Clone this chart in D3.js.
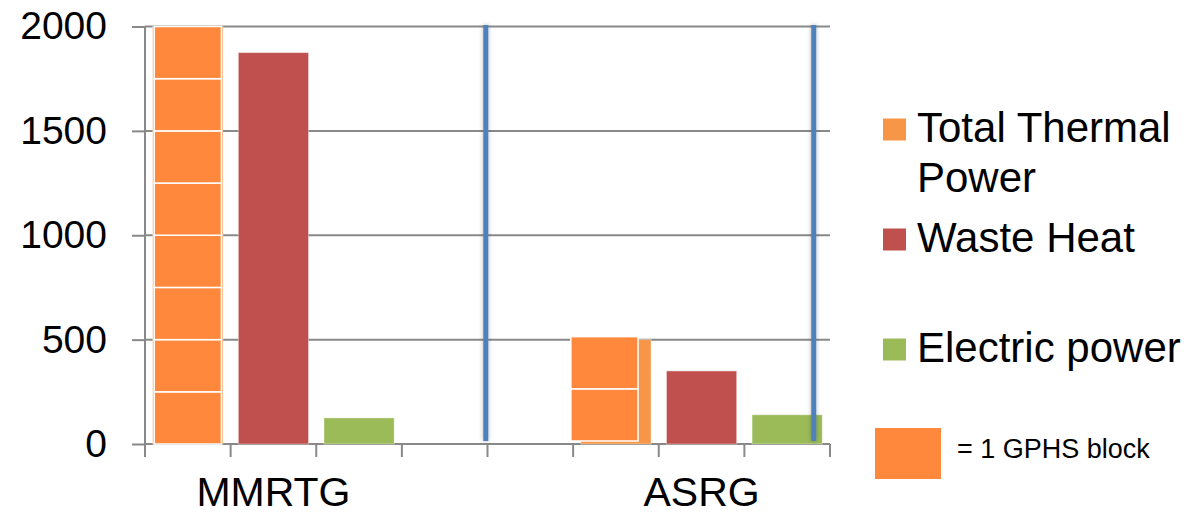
<!DOCTYPE html>
<html>
<head>
<meta charset="utf-8">
<script src="https://cdn.jsdelivr.net/npm/d3@7"></script>
<style>
    body { margin: 0; background: #fff; }
    svg { display: block; font-family: "Liberation Sans", Arial, sans-serif; }
</style>
</head>
<body>
<div id="chart"></div>
<script>
//Data
const groups = ["MMRTG", "ASRG"];
const seriesNames = ["Total Thermal Power", "Waste Heat", "Electric power"];
const thermalPower = [2000, 500];
const wasteHeat = [1875, 350];
const electricPower = [125, 140];
const gphsBlocks = [8, 2]; //number of GPHS blocks in each generator
const blockValue = 250; //thermal watts per block
const yTicks = [0, 500, 1000, 1500, 2000];

let cfg = {
    w: 1191,
    h: 515,
    left: 145,
    right: 830,
    top: 26.5,
    bottom: 444,
    slots: 8, //one slot per bar, empty slots between the two generators
    groupStart: [0, 5], //first slot of each generator
    dividers: [3.98, 7.81], //blue separator lines, in slot units
    colors: ["#F79646", "#C0504D", "#9BBB59"],
    blockColor: "#FF883C",
    axisColor: "#898989",
    dividerColor: "#4F81BD",
};

let svg = d3
    .select("#chart")
    .append("svg")
    .attr("width", cfg.w)
    .attr("height", cfg.h);

//soft shadow for the blue separators
let defs = svg.append("defs");
defs.append("filter")
    .attr("id", "shadow")
    .attr("x", "-200%")
    .attr("y", "-5%")
    .attr("width", "500%")
    .attr("height", "110%")
    .append("feDropShadow")
    .attr("dx", 0)
    .attr("dy", 0)
    .attr("stdDeviation", 2)
    .attr("flood-color", "#000")
    .attr("flood-opacity", 0.3);

let y = d3.scaleLinear().domain([0, 2000]).range([cfg.bottom, cfg.top]);

let x = d3
    .scaleBand()
    .domain(d3.range(cfg.slots))
    .range([cfg.left, cfg.right])
    .paddingInner(0.18)
    .paddingOuter(0.09);

//slot edges (for tick marks and separators)
let slotEdge = d3.scaleLinear().domain([0, cfg.slots]).range([cfg.left, cfg.right]);

//Gridlines
svg.append("g")
    .selectAll("line")
    .data(yTicks.filter((d) => d > 0))
    .enter()
    .append("line")
    .attr("x1", cfg.left)
    .attr("x2", cfg.right)
    .attr("y1", (d) => y(d))
    .attr("y2", (d) => y(d))
    .style("stroke", cfg.axisColor)
    .style("stroke-width", 2);

//Y axis
let yAxis = svg
    .append("g")
    .attr("transform", "translate(" + cfg.left + ",0)")
    .call(
        d3.axisLeft(y)
            .tickValues(yTicks)
            .tickFormat(d3.format("d"))
            .tickSize(13)
            .tickPadding(25)
    );
yAxis.select(".domain").remove();
yAxis.selectAll(".tick line").style("stroke", cfg.axisColor).style("stroke-width", 2);
yAxis.selectAll(".tick text")
    .style("font-size", "39px")
    .style("font-family", '"Liberation Sans", Arial, sans-serif')
    .attr("fill", "#000");

svg.append("line")
    .attr("x1", cfg.left)
    .attr("x2", cfg.left)
    .attr("y1", y(2000))
    .attr("y2", cfg.bottom + 13)
    .style("stroke", cfg.axisColor)
    .style("stroke-width", 2);

//X axis line and tick marks at slot edges
svg.append("line")
    .attr("x1", cfg.left)
    .attr("x2", cfg.right)
    .attr("y1", y(0))
    .attr("y2", y(0))
    .style("stroke", cfg.axisColor)
    .style("stroke-width", 2);

svg.append("g")
    .selectAll("line")
    .data(d3.range(1, cfg.slots + 1))
    .enter()
    .append("line")
    .attr("x1", (d) => slotEdge(d))
    .attr("x2", (d) => slotEdge(d))
    .attr("y1", y(0))
    .attr("y2", y(0) + 13)
    .style("stroke", cfg.axisColor)
    .style("stroke-width", 2);

//Bars: one slot per (generator, series)
let bars = [];
groups.forEach((g, gi) => {
    [thermalPower, wasteHeat, electricPower].forEach((vals, si) => {
        bars.push({ group: g, gi: gi, series: si, slot: cfg.groupStart[gi] + si, value: vals[gi] });
    });
});

svg.append("g")
    .selectAll("rect")
    .data(bars)
    .enter()
    .append("rect")
    .attr("x", (d) => x(d.slot))
    .attr("width", x.bandwidth())
    .attr("y", (d) => y(d.value))
    .attr("height", (d) => y(0) - y(d.value))
    .style("fill", (d) => cfg.colors[d.series])
    .style("stroke", "#fff")
    .style("stroke-opacity", 0.4)
    .style("stroke-width", 1);

//GPHS blocks stacked over the thermal bars
let blockShift = [{ dx: 1.5, dy: 0 }, { dx: -10, dy: -3 }];
let blocks = [];
groups.forEach((g, gi) => {
    d3.range(gphsBlocks[gi]).forEach((k) => blocks.push({ gi: gi, k: k }));
});

svg.append("g")
    .selectAll("rect")
    .data(blocks)
    .enter()
    .append("rect")
    .attr("x", (d) => x(cfg.groupStart[d.gi]) + blockShift[d.gi].dx)
    .attr("width", x.bandwidth() - 3)
    .attr("y", (d) => y((d.k + 1) * blockValue) + blockShift[d.gi].dy)
    .attr("height", y(0) - y(blockValue))
    .style("fill", cfg.blockColor)
    .style("stroke", "#fff")
    .style("stroke-width", 1.5);

//Group labels under the middle bar
svg.append("g")
    .selectAll("text")
    .data(groups)
    .enter()
    .append("text")
    .attr("x", (d, i) => x(cfg.groupStart[i] + 1) + x.bandwidth() / 2)
    .attr("y", 506)
    .attr("text-anchor", "middle")
    .style("font-size", "41px")
    .text((d) => d);

//Blue separators (thin rects so the shadow filter has an area to work on)
svg.append("g")
    .selectAll("rect")
    .data(cfg.dividers)
    .enter()
    .append("rect")
    .attr("x", (d) => slotEdge(d) - 2.5)
    .attr("width", 5)
    .attr("y", y(2000) - 1.5)
    .attr("height", y(0) - 3 - (y(2000) - 1.5))
    .style("fill", cfg.dividerColor)
    .style("filter", "url(#shadow)");

//Legend
let legend = svg
    .append("g")
    .selectAll(".legendItem")
    .data(seriesNames)
    .enter()
    .append("g")
    .attr("class", "legendItem")
    .attr("transform", (d, i) => "translate(883," + (129.5 + i * 110) + ")");

legend.append("rect")
    .attr("x", 0)
    .attr("y", -11)
    .attr("width", 23)
    .attr("height", 22)
    .style("fill", (d, i) => cfg.colors[i]);

legend.append("text")
    .attr("x", 34)
    .attr("y", 12)
    .style("font-size", "42px")
    .each(function (d) {
        //wrap "Total Thermal Power" onto two lines
        let words = d === "Total Thermal Power" ? ["Total Thermal", "Power"] : [d];
        d3.select(this)
            .selectAll("tspan")
            .data(words)
            .enter()
            .append("tspan")
            .attr("x", 34)
            .attr("dy", (w, j) => (j === 0 ? 0 : 50))
            .text((w) => w);
    });

//GPHS block key
svg.append("rect")
    .attr("x", 875)
    .attr("y", 428)
    .attr("width", 66)
    .attr("height", 51)
    .style("fill", cfg.blockColor);

svg.append("text")
    .attr("x", 957)
    .attr("y", 458)
    .style("font-size", "27px")
    .text("= 1 GPHS block");
</script>
</body>
</html>
